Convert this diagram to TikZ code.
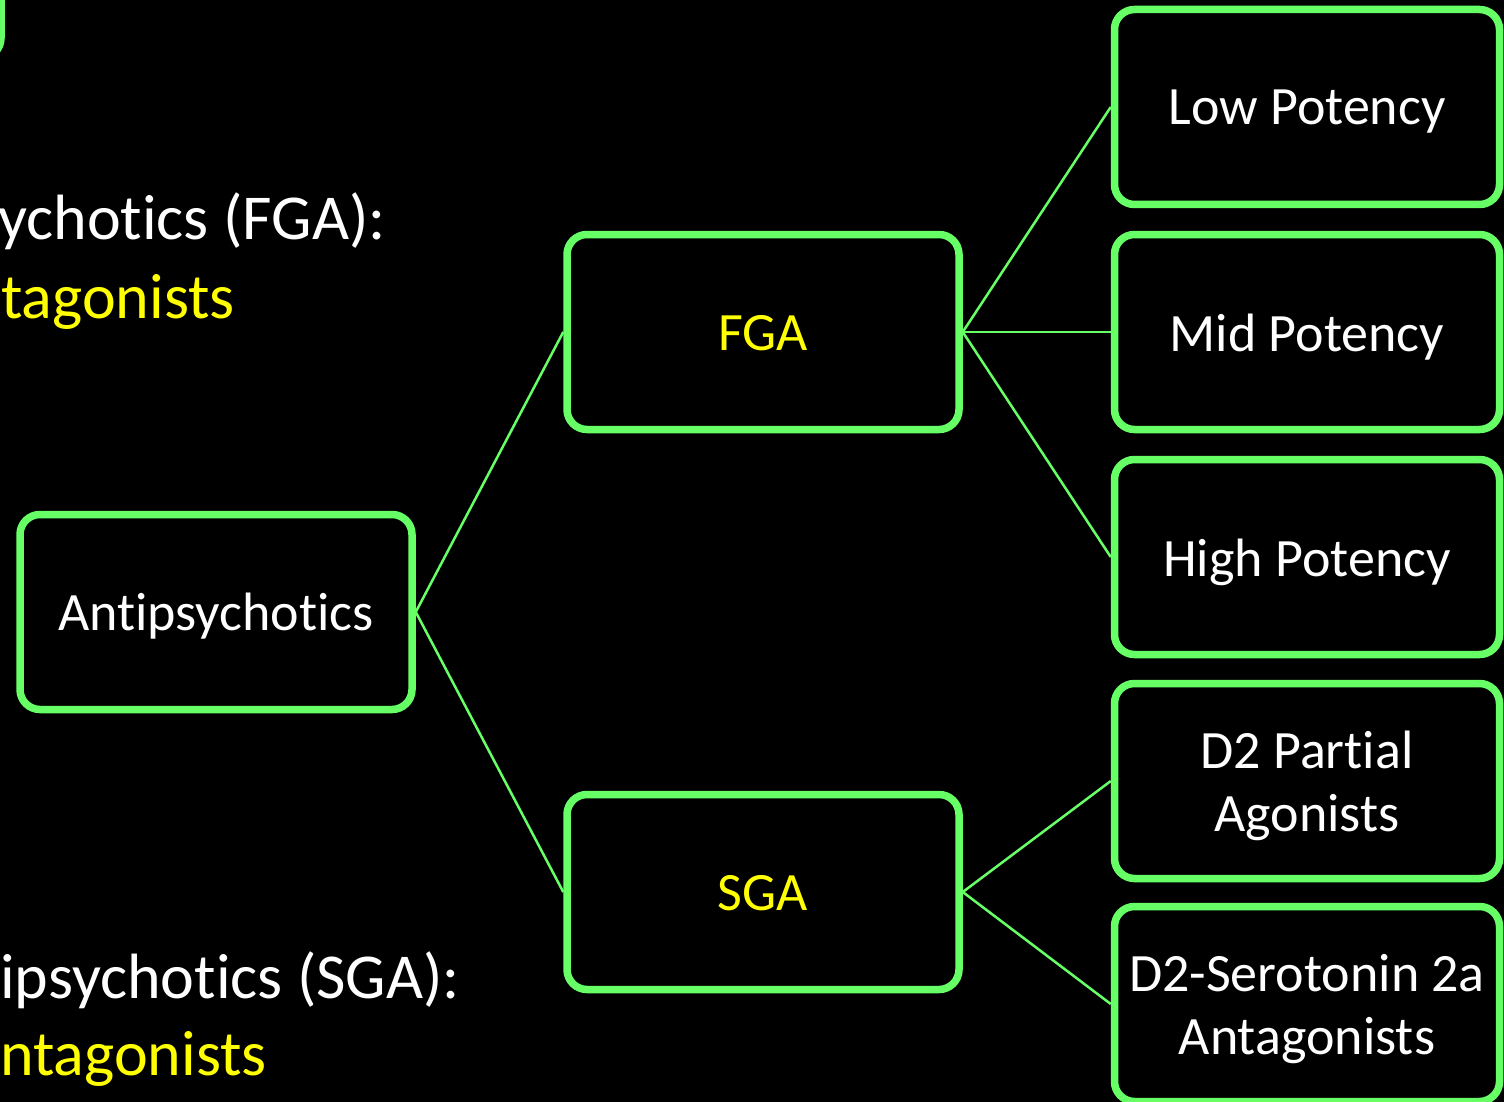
\documentclass[tikz,border=0pt]{standalone}
\usepackage{fontspec}
\setmainfont[Ligatures=NoCommon]{Carlito}
\definecolor{boxgreen}{HTML}{66FF66}
\definecolor{hiyellow}{HTML}{FFFF00}
\begin{document}
\begin{tikzpicture}[x=1pt,y=-1pt,
  box/.style={draw=boxgreen, line width=7.5pt, rounded corners=20pt, fill=black,
    minimum width=385pt, minimum height=195pt, inner sep=0pt},
  hub/.style={box, minimum width=392pt},
  lbl/.style={inner sep=0pt, align=center, text=white,
    font=\fontsize{54}{63}\selectfont},
  hubl/.style={lbl, text=hiyellow},
  link/.style={draw=boxgreen, line width=2.5pt},
  side/.style={inner sep=0pt, font=\fontsize{64}{76}\selectfont}]
  \useasboundingbox (0,0) rectangle (1504,1102);
  \fill[black] (0,0) rectangle (1504,1102);
  \clip (0,0) rectangle (1504,1102);

  % partial box in the upper left corner
  \draw[draw=boxgreen, line width=7.5pt, rounded corners=20pt] (-300,-200) rectangle (1,58);

  % heading lines on the left
  \node[side, text=white, anchor=base west] (t1) at (-2,240) {ychotics (FGA):};
  \node[side, text=hiyellow, anchor=base west] (t2) at (1,318) {tagonists};
  \node[side, text=white, anchor=base west] (t3) at (0,998) {ipsychotics (SGA):};
  \node[side, text=hiyellow, anchor=base west] (t4) at (0,1075) {ntagonists};

  % tree boxes
  \node[hub] (root) at (216,612) {};
  \node[hub] (fga) at (763,332) {};
  \node[hub] (sga) at (763,892) {};
  \node[box] (low) at (1307,107) {};
  \node[box] (mid) at (1307,332) {};
  \node[box] (high) at (1307,557) {};
  \node[box] (part) at (1307,781) {};
  \node[box] (sero) at (1307,1004) {};

  % box texts, set a little below the geometric centre
  \node[lbl] (roott) at ([yshift=-4pt]root.center) {Antipsychotics};
  \node[hubl] (fgat) at ([yshift=-1pt]fga.center) {FGA};
  \node[hubl] (sgat) at ([yshift=-1pt]sga.center) {SGA};
  \node[lbl] (lowt) at ([yshift=-5pt]low.center) {Low Potency};
  \node[lbl] (midt) at ([yshift=-5pt]mid.center) {Mid Potency};
  \node[lbl] (hight) at ([yshift=-5pt]high.center) {High Potency};
  \node[lbl] (partt) at ([yshift=-5pt]part.center) {D2 Partial\\Agonists};
  \node[lbl] (serot) at ([yshift=-5pt]sero.center) {D2-Serotonin 2a\\Antagonists};

  % connectors
  \draw[link] (root.east) -- (fga.west);
  \draw[link] (root.east) -- (sga.west);
  \draw[link] (fga.east) -- (low.west);
  \draw[link] (fga.east) -- (mid.west);
  \draw[link] (fga.east) -- (high.west);
  \draw[link] (sga.east) -- (part.west);
  \draw[link] (sga.east) -- (sero.west);
\end{tikzpicture}
\end{document}
